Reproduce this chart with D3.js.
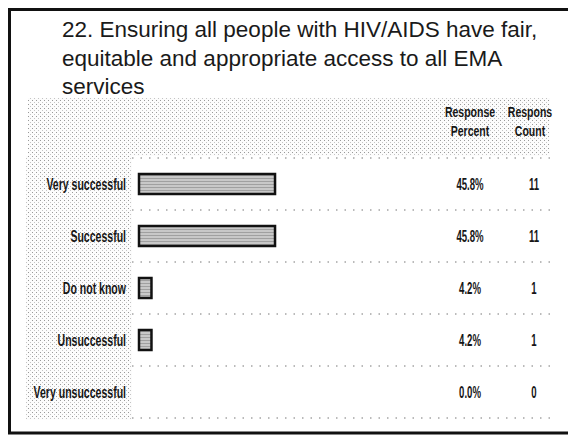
<!DOCTYPE html>
<html><head><meta charset="utf-8">
<script src="https://cdn.jsdelivr.net/npm/d3@7/dist/d3.min.js"></script>
<style>
html,body{margin:0;padding:0;background:#fff;}
svg{display:block;}
.lbl{font-family:"Liberation Sans",Arial,sans-serif;font-weight:bold;fill:#161616;}
</style>
</head><body>
<script>
const titleLines = ["22. Ensuring all people with HIV/AIDS have fair,", "equitable and appropriate access to all EMA", "services"];
const categories = ["Very successful", "Successful", "Do not know", "Unsuccessful", "Very unsuccessful"];
const percents = [45.8, 45.8, 4.2, 4.2, 0.0];
const counts = [11, 11, 1, 1, 0];
const headerPercent = ["Response", "Percent"];
const headerCount = ["Respons", "Count"];

const W = 568, H = 435;
const svg = d3.select("body").append("svg").attr("width", W).attr("height", H);

const defs = svg.append("defs");
const pat = defs.append("pattern").attr("id","dots").attr("width",4).attr("height",4).attr("patternUnits","userSpaceOnUse");
pat.append("rect").attr("width",4).attr("height",4).attr("fill","#fcfcfc");
pat.append("rect").attr("x",0).attr("y",0).attr("width",1).attr("height",1).attr("fill","#999");
pat.append("rect").attr("x",2).attr("y",2).attr("width",1).attr("height",1).attr("fill","#c4c4c4");
const bpat = defs.append("pattern").attr("id","barfill").attr("width",4).attr("height",3).attr("patternUnits","userSpaceOnUse");
bpat.append("rect").attr("width",4).attr("height",3).attr("fill","#c8c8c8");
bpat.append("rect").attr("y",1).attr("width",4).attr("height",1).attr("fill","#a0a0a0");

// condense helper: horizontal squeeze around the text anchor
function condense(sel, sx) {
  sel.each(function() {
    const t = d3.select(this);
    const tx = +t.attr("x"), ty = +t.attr("y");
    t.attr("x", 0).attr("y", 0).attr("transform", `translate(${tx},${ty}) scale(${sx},1)`);
  });
}

// frame
svg.append("line").attr("x1",9).attr("x2",W).attr("y1",9.5).attr("y2",9.5).attr("stroke","#111").attr("stroke-width",3);
svg.append("line").attr("x1",9.5).attr("x2",9.5).attr("y1",8).attr("y2",434).attr("stroke","#111").attr("stroke-width",3);
svg.append("line").attr("x1",8).attr("x2",W).attr("y1",433).attr("y2",433).attr("stroke","#111").attr("stroke-width",3);

// layout scales
const y = d3.scaleBand().domain(categories).range([158, 418]);
const x = d3.scaleLinear().domain([0, 100]).range([139, 436]);

// halftone backgrounds
svg.append("rect").attr("x",28).attr("y",98).attr("width",522).attr("height",58).attr("fill","url(#dots)");
svg.append("rect").attr("x",26).attr("y",156).attr("width",106).attr("height",y.range()[1]-154).attr("fill","url(#dots)");

// title
svg.append("g").selectAll("text").data(titleLines).join("text")
  .attr("x", 62).attr("y", (d,i) => 37 + i*28.5)
  .attr("font-family", "'Liberation Sans', Arial, sans-serif")
  .attr("font-size", 22.5).attr("fill", "#1a1a1a")
  .text(d => d);

// header
const hdr = svg.append("g").attr("class","lbl").attr("font-size",14).attr("text-anchor","middle");
condense(hdr.selectAll("text.p").data(headerPercent).join("text").attr("class","p")
  .attr("x",470).attr("y",(d,i)=>117+i*19).text(d=>d), 0.75);
condense(hdr.selectAll("text.c").data(headerCount).join("text").attr("class","c")
  .attr("x",530).attr("y",(d,i)=>117+i*19).text(d=>d), 0.75);

// separators
const seps = [y.range()[0]].concat(categories.map(c => y(c) + y.bandwidth()));
svg.append("g").selectAll("line").data(seps).join("line")
  .attr("x1", 132).attr("x2", 550).attr("y1", d=>d).attr("y2", d=>d)
  .attr("stroke","#777").attr("stroke-width",1).attr("stroke-dasharray","1.5,7");

// labels
condense(svg.append("g").attr("class","lbl").attr("font-size",17).attr("text-anchor","end")
  .selectAll("text").data(categories).join("text")
  .attr("x",126).attr("y",d=>y(d)+y.bandwidth()/2+6).text(d=>d), 0.62);

// bars
const bh = 20;
svg.append("g").selectAll("rect").data(categories.map((c,i)=>({c, v:percents[i]})).filter(d=>d.v>0)).join("rect")
  .attr("x", x(0)).attr("y", d=>y(d.c)+y.bandwidth()/2-bh/2)
  .attr("width", d=>x(d.v)-x(0)).attr("height", bh)
  .attr("fill","url(#barfill)").attr("stroke","#111").attr("stroke-width",2.5);

// values
condense(svg.append("g").attr("class","lbl").attr("font-size",16).attr("text-anchor","middle")
  .selectAll("text").data(percents).join("text")
  .attr("x",470).attr("y",(d,i)=>y(categories[i])+y.bandwidth()/2+6).text(d=>d.toFixed(1)+"%"), 0.6);
condense(svg.append("g").attr("class","lbl").attr("font-size",16).attr("text-anchor","middle")
  .selectAll("text").data(counts).join("text")
  .attr("x",534).attr("y",(d,i)=>y(categories[i])+y.bandwidth()/2+6).text(d=>d), 0.6);
</script>
</body></html>
